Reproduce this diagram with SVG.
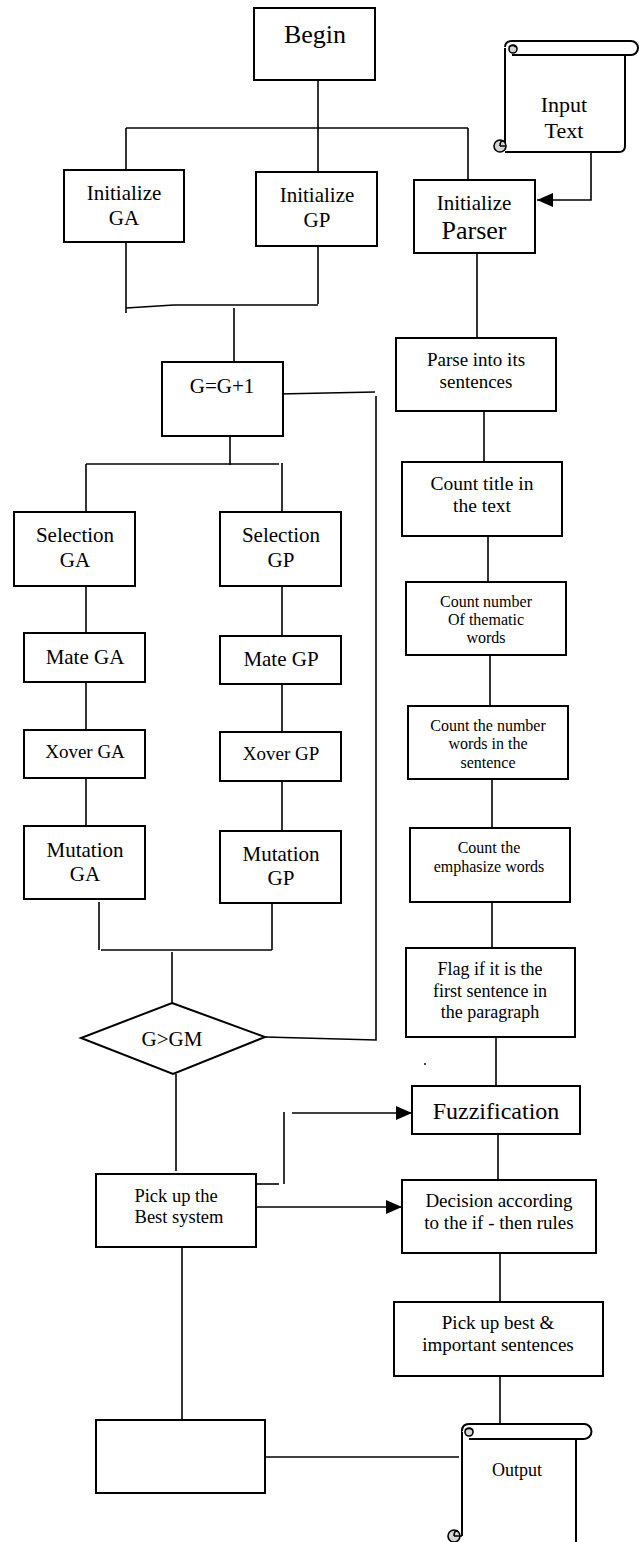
<svg xmlns="http://www.w3.org/2000/svg" width="639" height="1542" viewBox="0 0 639 1542">
<style>
.b{fill:#fff;stroke:#000;stroke-width:2}
.c{fill:none;stroke:#000;stroke-width:1.6}
.t{font-family:"Liberation Serif","Times New Roman",serif;text-anchor:middle;fill:#000}
.curl{fill:#d4d4d4;stroke:#000;stroke-width:1.6}
</style>
<defs>
<marker id="ah" markerUnits="userSpaceOnUse" markerWidth="16" markerHeight="14" refX="16" refY="7" orient="auto">
<path d="M0,0 L16,7 L0,14 Z" fill="#000"/>
</marker>
</defs>
<rect width="639" height="1542" fill="#fff"/>

<g id="connectors">
<path class="c" d="M318,80 V128"/>
<path class="c" d="M126,128 H468"/>
<path class="c" d="M126,128 V170"/>
<path class="c" d="M318,128 V172"/>
<path class="c" d="M468,128 V180"/>
<path class="c" d="M591,153 V200 H537" marker-end="url(#ah)"/>
<path class="c" d="M126,242 V313"/>
<path class="c" d="M318,246 V304"/>
<path class="c" d="M126,308 L174,305 H318"/>
<path class="c" d="M234,308 V362"/>
<path class="c" d="M477,253 V338"/>
<path class="c" d="M278,394 L375,392"/>
<path class="c" d="M376,396 V1040 L265,1037"/>
<path class="c" d="M230,436 V465"/>
<path class="c" d="M86,464 H279"/>
<path class="c" d="M86,464 V512"/>
<path class="c" d="M282,463 V512"/>
<path class="c" d="M484,411 V462"/>
<path class="c" d="M488,536 V582"/>
<path class="c" d="M86,586 V633"/>
<path class="c" d="M282,586 V636"/>
<path class="c" d="M490,655 V706"/>
<path class="c" d="M86,682 V730"/>
<path class="c" d="M282,684 V732"/>
<path class="c" d="M492,779 V828"/>
<path class="c" d="M86,778 V826"/>
<path class="c" d="M282,781 V831"/>
<path class="c" d="M492,902 V948"/>
<path class="c" d="M99,902 V950"/>
<path class="c" d="M272,903 V950"/>
<path class="c" d="M101,950 H272"/>
<path class="c" d="M172,952 V1003"/>
<path class="c" d="M176,1074 V1171"/>
<path class="c" d="M496,1037 V1086"/>
<path class="c" d="M498,1134 V1180"/>
<path class="c" d="M254,1184 H279"/>
<path class="c" d="M284,1112 V1184"/>
<path class="c" d="M292,1113 H412" marker-end="url(#ah)"/>
<path class="c" d="M256,1207 H402" marker-end="url(#ah)"/>
<path class="c" d="M182,1247 V1420"/>
<path class="c" d="M500,1253 V1302"/>
<path class="c" d="M500,1376 V1424"/>
<path class="c" d="M265,1457 H459"/>
<circle cx="425" cy="1064" r="1" fill="#000"/>
</g>

<g id="begin">
<rect class="b" x="254" y="8" width="121" height="72"/>
<text class="t" x="315" y="43" font-size="26">Begin</text>
</g>

<g id="input-text">
<path class="b" d="M505,48 V146 M505,152 H619 Q625,152 625,146 V55"/>
<path class="b" d="M505,47 Q505,41 512,41 H631 A7,7 0 0 1 631,55 H512"/>
<circle class="curl" cx="513" cy="49" r="4"/>
<path class="c" d="M509,47 Q512,44 516,47"/>
<circle class="curl" cx="500" cy="146" r="6"/>
<path class="c" d="M500,146 H505 M504,141 Q500,140 500,146"/>
<text class="t" x="564" y="112" font-size="22">Input</text>
<text class="t" x="564" y="138" font-size="22">Text</text>
</g>

<g id="init-ga">
<rect class="b" x="64" y="170" width="120" height="72"/>
<text class="t" x="124" y="200" font-size="21">Initialize</text>
<text class="t" x="124" y="225" font-size="21">GA</text>
</g>

<g id="init-gp">
<rect class="b" x="256" y="172" width="121" height="74"/>
<text class="t" x="317" y="202" font-size="21">Initialize</text>
<text class="t" x="317" y="227" font-size="21">GP</text>
</g>

<g id="init-parser">
<rect class="b" x="414" y="180" width="121" height="73"/>
<text class="t" x="474" y="210" font-size="21">Initialize</text>
<text class="t" x="474" y="239" font-size="26">Parser</text>
</g>

<g id="g-inc">
<rect class="b" x="162" y="362" width="121" height="74"/>
<text class="t" x="222" y="393" font-size="21">G=G+1</text>
</g>

<g id="parse">
<rect class="b" x="396" y="338" width="160" height="73"/>
<text class="t" x="476" y="366" font-size="19">Parse into its</text>
<text class="t" x="476" y="388" font-size="19">sentences</text>
</g>

<g id="count-title">
<rect class="b" x="402" y="462" width="160" height="74"/>
<text class="t" x="482" y="490" font-size="19.5">Count title in</text>
<text class="t" x="482" y="512" font-size="19.5">the text</text>
</g>

<g id="count-thematic">
<rect class="b" x="406" y="582" width="160" height="73"/>
<text class="t" x="486" y="607" font-size="16">Count number</text>
<text class="t" x="486" y="625" font-size="16">Of thematic</text>
<text class="t" x="486" y="643" font-size="16">words</text>
</g>

<g id="selection-ga">
<rect class="b" x="14" y="512" width="121" height="74"/>
<text class="t" x="75" y="542" font-size="21">Selection</text>
<text class="t" x="75" y="567" font-size="21">GA</text>
</g>

<g id="selection-gp">
<rect class="b" x="220" y="512" width="121" height="74"/>
<text class="t" x="281" y="542" font-size="21">Selection</text>
<text class="t" x="281" y="567" font-size="21">GP</text>
</g>

<g id="mate-ga">
<rect class="b" x="24" y="633" width="121" height="49"/>
<text class="t" x="85" y="664" font-size="21">Mate GA</text>
</g>

<g id="mate-gp">
<rect class="b" x="220" y="636" width="121" height="48"/>
<text class="t" x="281" y="666" font-size="21">Mate GP</text>
</g>

<g id="xover-ga">
<rect class="b" x="24" y="730" width="121" height="48"/>
<text class="t" x="85" y="758" font-size="19">Xover GA</text>
</g>

<g id="xover-gp">
<rect class="b" x="220" y="732" width="121" height="49"/>
<text class="t" x="281" y="760" font-size="19">Xover GP</text>
</g>

<g id="mutation-ga">
<rect class="b" x="24" y="826" width="121" height="73"/>
<text class="t" x="85" y="857" font-size="21">Mutation</text>
<text class="t" x="85" y="881" font-size="21">GA</text>
</g>

<g id="mutation-gp">
<rect class="b" x="220" y="831" width="121" height="72"/>
<text class="t" x="281" y="861" font-size="21">Mutation</text>
<text class="t" x="281" y="885" font-size="21">GP</text>
</g>

<g id="count-words">
<rect class="b" x="408" y="706" width="160" height="73"/>
<text class="t" x="488" y="731" font-size="16">Count the number</text>
<text class="t" x="488" y="749" font-size="16">words in the</text>
<text class="t" x="488" y="768" font-size="16">sentence</text>
</g>

<g id="count-emphasize">
<rect class="b" x="410" y="828" width="160" height="74"/>
<text class="t" x="489" y="853" font-size="16">Count the</text>
<text class="t" x="489" y="872" font-size="16">emphasize words</text>
</g>

<g id="flag">
<rect class="b" x="406" y="948" width="169" height="89"/>
<text class="t" x="490" y="975" font-size="18">Flag if it is the</text>
<text class="t" x="490" y="997" font-size="18">first sentence in</text>
<text class="t" x="490" y="1018" font-size="18">the paragraph</text>
</g>

<g id="decision-ggm">
<path class="b" d="M172,1003 L265,1037 L173,1074 L81,1038 Z"/>
<text class="t" x="172" y="1046" font-size="21">G&gt;GM</text>
</g>

<g id="fuzzification">
<rect class="b" x="412" y="1086" width="168" height="48"/>
<text class="t" x="496" y="1119" font-size="24">Fuzzification</text>
</g>

<g id="pick-best-system">
<rect class="b" x="96" y="1174" width="160" height="73"/>
<text class="t" x="176" y="1202" font-size="18.5">Pick up the</text>
<text class="t" x="179" y="1223" font-size="18.5">Best system</text>
</g>

<g id="decision-rules">
<rect class="b" x="402" y="1180" width="194" height="73"/>
<text class="t" x="499" y="1207" font-size="19">Decision according</text>
<text class="t" x="499" y="1229" font-size="19">to the if - then rules</text>
</g>

<g id="pick-best-sentences">
<rect class="b" x="394" y="1302" width="209" height="74"/>
<text class="t" x="498" y="1329" font-size="19">Pick up best &amp;</text>
<text class="t" x="498" y="1351" font-size="19">important sentences</text>
</g>

<g id="blank-box">
<rect class="b" x="96" y="1420" width="169" height="73"/>
</g>

<g id="output">
<path class="b" d="M462,1431 V1536 M576,1439 V1542"/>
<path class="b" d="M462,1431 Q462,1424 469,1424 H584 A7.5,7.5 0 0 1 584,1439 H469"/>
<circle class="curl" cx="469" cy="1432" r="4"/>
<path class="c" d="M465,1430 Q469,1427 473,1430"/>
<circle class="curl" cx="454" cy="1536" r="6"/>
<path class="c" d="M454,1536 H462 M458,1531 Q454,1530 454,1536"/>
<text class="t" x="517" y="1476" font-size="18">Output</text>
</g>
</svg>
